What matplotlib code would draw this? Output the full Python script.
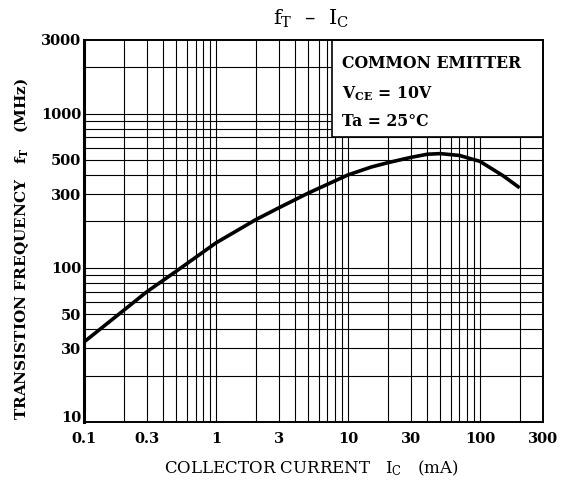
import matplotlib.pyplot as plt
from matplotlib.patches import Rectangle
from matplotlib.ticker import FixedLocator, NullFormatter

# fT - Ic curve
ic_ma = [0.1, 0.2, 0.3, 0.5, 1, 2, 3, 5, 10, 15, 20, 30, 40, 50, 70, 100, 150, 200]
ft_mhz = [33, 53, 70, 95, 145, 205, 245, 305, 400, 450, 480, 520, 545, 550, 535, 490, 395, 330]

xticks = [0.1, 0.3, 1, 3, 10, 30, 100, 300]
xtick_labels = ['0.1', '0.3', '1', '3', '10', '30', '100', '300']
yticks = [10, 30, 50, 100, 300, 500, 1000, 3000]
ytick_labels = ['10', '30', '50', '100', '300', '500', '1000', '3000']

plt.rcParams['font.family'] = ['DejaVu Serif']
plt.rcParams['mathtext.fontset'] = 'dejavuserif'

fig = plt.figure(figsize=(5.61, 4.86), dpi=100)
ax = fig.add_axes([0.1497, 0.1317, 0.818, 0.786])

ax.set_xscale('log')
ax.set_yscale('log')
ax.set_xlim(0.1, 300)
ax.set_ylim(10, 3000)

# grid at every 1..9 step of each decade
xgrid = [m * 10.0 ** e for e in range(-1, 3) for m in range(1, 10)]
ygrid = [m * 10.0 ** e for e in range(1, 4) for m in range(1, 10)]
for x in xgrid:
    if 0.1 < x < 300:
        ax.axvline(x, color='black', lw=0.8, zorder=1)
for y in ygrid:
    if 10 < y < 3000:
        ax.axhline(y, color='black', lw=0.8, zorder=1)

ax.plot(ic_ma, ft_mhz, color='black', lw=2.6, zorder=4, solid_capstyle='butt')

ax.xaxis.set_major_locator(FixedLocator(xticks))
ax.xaxis.set_minor_locator(FixedLocator([]))
ax.set_xticklabels(xtick_labels)
ax.yaxis.set_major_locator(FixedLocator(yticks))
ax.yaxis.set_minor_locator(FixedLocator([]))
ax.yaxis.set_minor_formatter(NullFormatter())
ax.set_yticklabels(ytick_labels)
ax.tick_params(axis='x', length=0, pad=7, labelsize=10.5)
ax.tick_params(axis='y', length=0, pad=2, labelsize=10.5)
for lab in ax.get_xticklabels() + ax.get_yticklabels():
    lab.set_fontweight('bold')
ax.get_yticklabels()[0].set_va('baseline')

for s in ax.spines.values():
    s.set_linewidth(1.4)
    s.set_zorder(5)
ax.spines['left'].set_linewidth(2.2)

# condition box in the upper right
box = Rectangle((0.54, 0.746), 0.46, 0.254, transform=ax.transAxes,
                facecolor='white', edgecolor='black', lw=1.2, zorder=3)
ax.add_patch(box)
ax.text(0.562, 0.96, 'COMMON EMITTER', transform=ax.transAxes, fontsize=11.3,
        fontweight='bold', va='top', zorder=6)
ax.text(0.562, 0.885, r'V$_{\mathbf{CE}}$ = 10V', transform=ax.transAxes, fontsize=11.3,
        fontweight='bold', va='top', zorder=6)
ax.text(0.562, 0.81, 'Ta = 25°C', transform=ax.transAxes, fontsize=11.3,
        fontweight='bold', va='top', zorder=6)

fig.text(0.555, 0.962, r'f$_{\mathrm{T}}$  –  I$_{\mathrm{C}}$', ha='center', va='center', fontsize=15)
fig.text(0.555, 0.037, r'COLLECTOR CURRENT   I$_{\mathrm{C}}$   (mA)', ha='center',
         va='center', fontsize=12)
fig.text(0.038, 0.487, r'TRANSISTION FREQUENCY   f$_{\mathbf{T}}$   (MHz)', ha='center',
         va='center', rotation=90, fontsize=11, fontweight='bold')

fig.savefig('out.png', dpi=100)
